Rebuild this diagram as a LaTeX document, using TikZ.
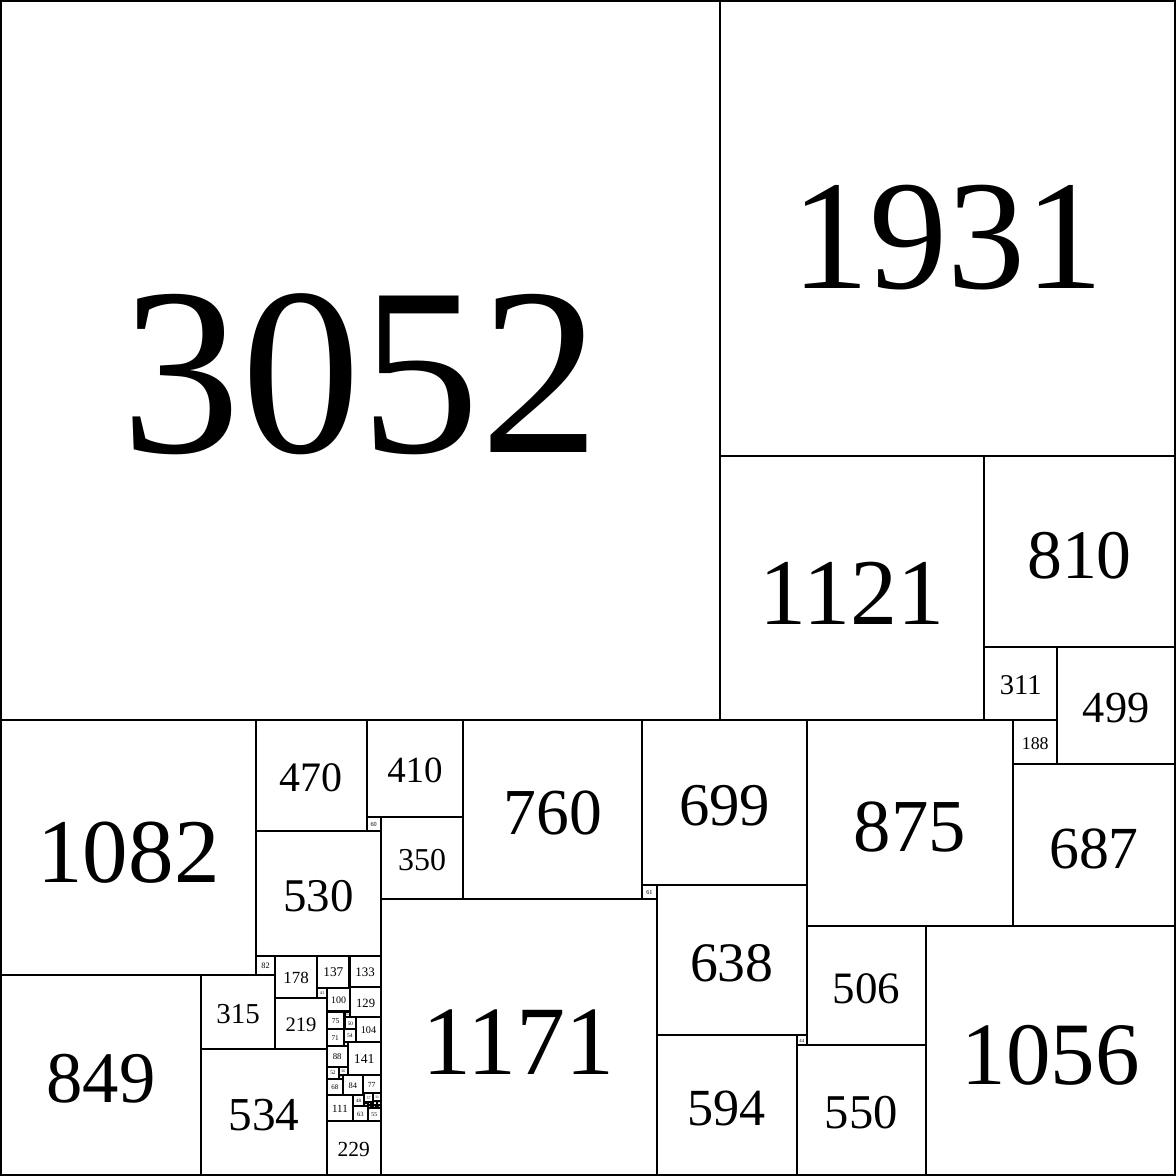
\documentclass[tikz,border=0pt]{standalone}
\usepackage{fontspec}
\setmainfont{Liberation Serif}
\usetikzlibrary{calc}
% label size grows a little slower than the side
\newcommand\sqsize[1]{max(0.4,0.0663*(#1)^0.93)}
\newcommand\sqfont[1]{\pgfmathparse{\sqsize{#1}}\fontsize{\pgfmathresult}{\pgfmathresult}\selectfont}

\begin{document}
\begin{tikzpicture}[
  x=0.004cm, y=-0.004cm, line width=1pt,
  sq/.style={draw, anchor=north west, minimum size=#1*0.004cm, inner sep=0pt, outer sep=0pt,
    font=\sqfont{#1}, text height={0.77*\sqsize{#1}*1pt}, text depth=0pt}]
\useasboundingbox ($(0,0)+(-0.5pt,0.5pt)$) rectangle ($(4983,4983)+(0.5pt,-0.5pt)$);

% top band
\node[sq=3052] (q3052) at (0,0) {3052};
\node[sq=1931] (q1931) at (3052,0) {1931};
\node[sq=1121] (q1121) at (3052,1931) {1121};
\node[sq=810]  (q810)  at (4173,1931) {810};
\node[sq=311]  (q311)  at (4173,2741) {311};
\node[sq=499]  (q499)  at (4484,2741) {499};

% right part of the lower band
\node[sq=188]  (q188)  at (4296,3052) {188};
\node[sq=687]  (q687)  at (4296,3240) {687};
\node[sq=875]  (q875)  at (3421,3052) {875};
\node[sq=699]  (q699)  at (2722,3052) {699};
\node[sq=61]   (q61)   at (2722,3751) {61};
\node[sq=638]  (q638)  at (2783,3751) {638};
\node[sq=506]  (q506)  at (3421,3927) {506};
\node[sq=1056] (q1056) at (3927,3927) {1056};
\node[sq=44]   (q44)   at (3377,4389) {44};
\node[sq=594]  (q594)  at (2783,4389) {594};
\node[sq=550]  (q550)  at (3377,4433) {550};

% middle part
\node[sq=760]  (q760)  at (1962,3052) {760};
\node[sq=410]  (q410)  at (1552,3052) {410};
\node[sq=60]   (q60)   at (1552,3462) {60};
\node[sq=350]  (q350)  at (1612,3462) {350};
\node[sq=1171] (q1171) at (1612,3812) {1171};
\node[sq=470]  (q470)  at (1082,3052) {470};
\node[sq=530]  (q530)  at (1082,3522) {530};

% left part
\node[sq=1082] (q1082) at (0,3052) {1082};
\node[sq=82]   (q82)   at (1082,4052) {82};
\node[sq=849]  (q849)  at (0,4134) {849};
\node[sq=315]  (q315)  at (849,4134) {315};
\node[sq=534]  (q534)  at (849,4449) {534};
\node[sq=178]  (q178)  at (1164,4052) {178};
\node[sq=219]  (q219)  at (1164,4230) {219};

% small squares
\node[sq=137]  (q137)  at (1342,4052) {137};
\node[sq=41]   (q41)   at (1342,4189) {41};
\node[sq=133]  (q133)  at (1479,4052) {133};
\node[sq=4]    (q4)    at (1479,4185) {4};
\node[sq=100]  (q100)  at (1383,4189) {100};
\node[sq=129]  (q129)  at (1483,4185) {129};
\node[sq=75]   (q75)   at (1383,4289) {75};
\node[sq=25]   (q25)   at (1458,4289) {25};
\node[sq=50]   (q50)   at (1458,4314) {50};
\node[sq=104]  (q104)  at (1508,4314) {104};
\node[sq=71]   (q71)   at (1383,4364) {71};
\node[sq=54]   (q54)   at (1454,4364) {54};
\node[sq=17]   (q17)   at (1454,4418) {17};
\node[sq=141]  (q141)  at (1471,4418) {141};
\node[sq=88]   (q88)   at (1383,4435) {88};
\node[sq=52]   (q52)   at (1383,4523) {52};
\node[sq=36]   (q36)   at (1435,4523) {36};
\node[sq=16]   (q16)   at (1435,4559) {16};
\node[sq=68]   (q68)   at (1383,4575) {68};
\node[sq=84]   (q84)   at (1451,4559) {84};
\node[sq=77]   (q77)   at (1535,4559) {77};
\node[sq=7]    (q7)    at (1535,4636) {7};
\node[sq=111]  (q111)  at (1383,4643) {111};
\node[sq=48]   (q48)   at (1494,4643) {48};
\node[sq=63]   (q63)   at (1494,4691) {63};
\node[sq=55]   (q55)   at (1557,4699) {55};
\node[sq=229]  (q229)  at (1383,4754) {229};

% tiniest corner
\node[sq=37]   (q37)   at (1542,4636) {37};
\node[sq=33]   (q33)   at (1579,4636) {33};
\node[sq=15]   (q15)   at (1542,4676) {15};
\node[sq=13]   (q13a)  at (1557,4673) {13};
\node[sq=9]    (q9a)   at (1570,4673) {9};
\node[sq=13]   (q13b)  at (1557,4686) {13};
\node[sq=9]    (q9b)   at (1570,4682) {9};
\node[sq=8]    (q8)    at (1571,4691) {8};
\node[sq=17]   (q17b)  at (1579,4669) {17};
\node[sq=16]   (q16b)  at (1596,4669) {16};
\node[sq=14]   (q14)   at (1598,4685) {14};
\node[sq=13]   (q13c)  at (1579,4686) {13};
\node[sq=6]    (q6a)   at (1592,4686) {6};
\node[sq=6]    (q6b)   at (1592,4692) {6};
\end{tikzpicture}
\end{document}
